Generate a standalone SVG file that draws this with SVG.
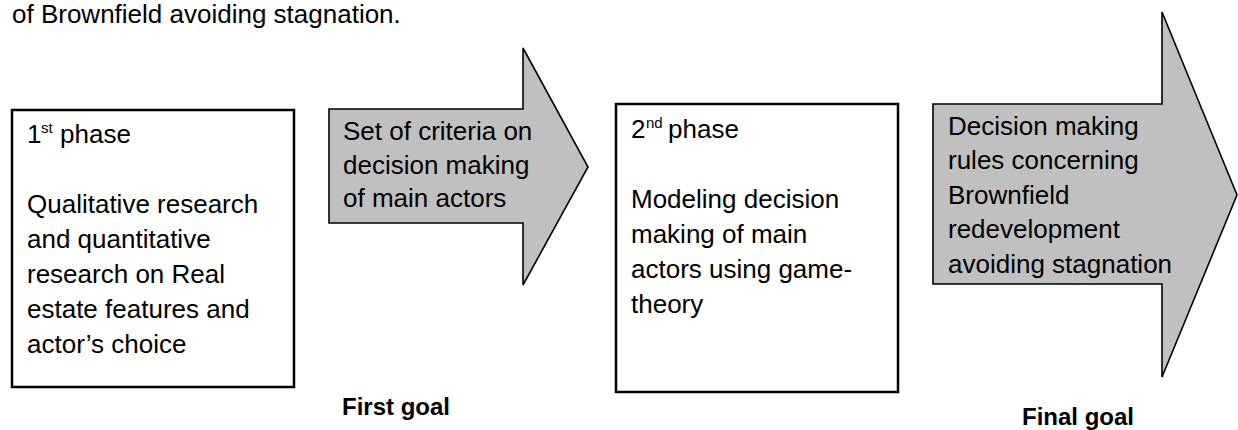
<svg xmlns="http://www.w3.org/2000/svg" width="1238" height="430" viewBox="0 0 1238 430">
  <style>
    .txt { font-family: "Liberation Sans", Arial, sans-serif; font-size: 26px; fill: #000; }
    .sup { font-size: 15px; }
    .goal { font-family: "Liberation Sans", Arial, sans-serif; font-size: 24px; font-weight: bold; fill: #000; }
    .box { fill: #fff; stroke: #000; stroke-width: 2.5; }
    .arrow { fill: #c0c0c0; stroke: #000; stroke-width: 1.6; stroke-linejoin: miter; }
  </style>

  <!-- tail of the preceding paragraph -->
  <text class="txt" x="12" y="23">of Brownfield avoiding stagnation.</text>

  <!-- phase 1 -->
  <g id="phase1">
    <rect class="box" x="12" y="110" width="282" height="277"/>
    <text class="txt" y="143"><tspan x="27">1</tspan><tspan class="sup" x="41" y="133">st</tspan><tspan x="60" y="143">phase</tspan></text>
    <text class="txt">
      <tspan x="27" y="213">Qualitative research</tspan>
      <tspan x="27" y="248">and quantitative</tspan>
      <tspan x="27" y="283">research on Real</tspan>
      <tspan x="27" y="318">estate features and</tspan>
      <tspan x="27" y="353">actor’s choice</tspan>
    </text>
  </g>

  <!-- result arrows between phases -->
  <g id="connectors">
    <g id="first-goal">
      <polygon class="arrow" points="329,109 523,109 523,48 588,167 523,285 523,223 329,223"/>
      <text class="txt">
        <tspan x="343" y="140">Set of criteria on</tspan>
        <tspan x="343" y="174">decision making</tspan>
        <tspan x="343" y="207">of main actors</tspan>
      </text>
      <text class="goal" x="342" y="415">First goal</text>
    </g>
    <g id="final-goal">
      <polygon class="arrow" points="933,104 1162,104 1162,12 1237,195 1162,377 1162,284 933,284"/>
      <text class="txt">
        <tspan x="948" y="135">Decision making</tspan>
        <tspan x="948" y="169">rules concerning</tspan>
        <tspan x="948" y="204">Brownfield</tspan>
        <tspan x="948" y="238">redevelopment</tspan>
        <tspan x="948" y="273">avoiding stagnation</tspan>
      </text>
      <text class="goal" x="1022" y="425">Final goal</text>
    </g>
  </g>

  <!-- phase 2 -->
  <g id="phase2">
    <rect class="box" x="616" y="104" width="282" height="288"/>
    <text class="txt" y="138"><tspan x="631">2</tspan><tspan class="sup" x="646" y="128">nd</tspan><tspan x="668" y="138">phase</tspan></text>
    <text class="txt">
      <tspan x="631" y="208">Modeling decision</tspan>
      <tspan x="631" y="243">making of main</tspan>
      <tspan x="631" y="278">actors using game-</tspan>
      <tspan x="631" y="313">theory</tspan>
    </text>
  </g>
</svg>
